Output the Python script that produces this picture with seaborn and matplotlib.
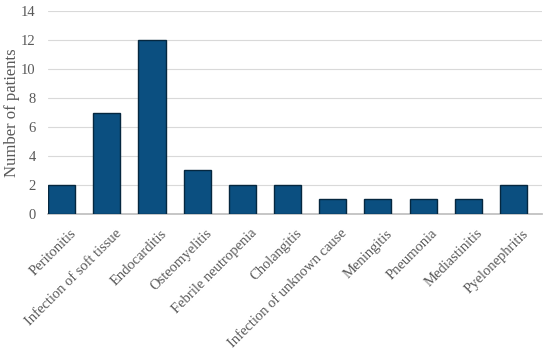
import numpy as np
import pandas as pd
import seaborn as sns
import matplotlib.pyplot as plt
import matplotlib.transforms as mtransforms

categories = ['Peritonitis', 'Infection of soft tissue', 'Endocarditis', 'Osteomyelitis',
              'Febrile neutropenia', 'Cholangitis', 'Infection of unknown cause',
              'Meningitis', 'Pneumonia', 'Mediastinitis', 'Pyelonephritis']
patients = [2, 7, 12, 3, 2, 2, 1, 1, 1, 1, 2]

df = pd.DataFrame({'cause': categories, 'n': patients})

sns.set_theme(style="white")
plt.rcParams['font.family'] = ['Liberation Serif', 'DejaVu Serif']

f = plt.figure(figsize=(5.5, 3.49), dpi=100)
ax = f.add_axes([0.0873, 0.387, 0.898, 0.581])

sns.barplot(df, x='cause', y='n', color='#0b4f80', width=0.6, saturation=1,
            edgecolor='#05273f', linewidth=1.0, ax=ax, zorder=3)

ax.set_ylim(0, 14)
ax.set_yticks(range(0, 15, 2))
ax.yaxis.grid(True, color='#d9d9d9', linewidth=0.8, zorder=0)
ax.set_xlim(-0.3, len(categories) - 0.37)
for s in ['top', 'right', 'left']:
    ax.spines[s].set_visible(False)
ax.spines['bottom'].set_color('#bfbfbf')
ax.tick_params(axis='y', length=0, labelsize=10.5, colors='#595959', pad=9)
ax.tick_params(axis='x', length=0, labelsize=10.5, colors='#595959', pad=5)
shift = mtransforms.ScaledTranslation(8 / 100, -6 / 100, f.dpi_scale_trans)
for lab in ax.get_xticklabels():
    lab.set_rotation(45)
    lab.set_ha('right')
    lab.set_rotation_mode('anchor')
    lab.set_transform(lab.get_transform() + shift)
ax.set_xlabel('')
ax.set_ylabel('Number of patients', fontsize=12, color='#595959')
ax.yaxis.set_label_coords(-0.057, 0.5)

f.savefig('out.png', dpi=100)
